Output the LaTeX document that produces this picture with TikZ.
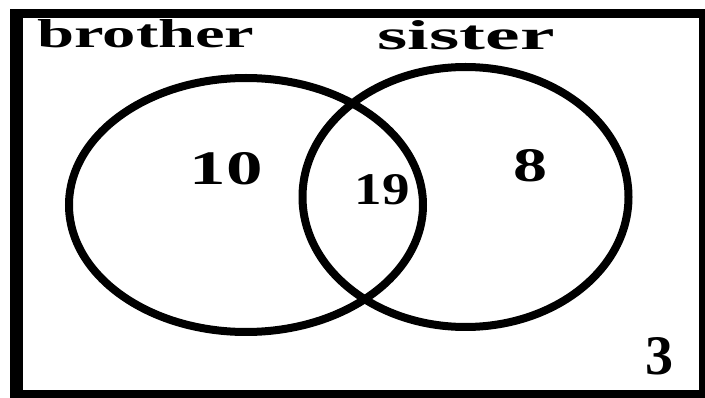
\documentclass[tikz,border=0pt]{standalone}
\usepackage{fontspec}
\setmainfont{Liberation Serif}
\usepackage{graphicx}
\usetikzlibrary{shapes.geometric}
\begin{document}
\begin{tikzpicture}[x=1pt,y=-1pt,
  setcircle/.style={draw=black, ellipse, line width=8pt, inner sep=0pt},
  lbl/.style={inner sep=0pt, text=black, font=\bfseries}]
\useasboundingbox (0,0) rectangle (705,398);
\fill[white] (0,0) rectangle (705,398);
\draw[line width=9pt] (16.5,14) rectangle (703,394.5);
\draw[line width=13pt] (16.5,9.5) -- (16.5,399);
\node[setcircle, minimum width=354pt, minimum height=254pt] (brotherset) at (246,205) {};
\node[setcircle, minimum width=326pt, minimum height=260pt] (sisterset) at (465.5,197) {};
\node[lbl] (brother) at (146,34) {\resizebox{217pt}{28pt}{brother}};
\node[lbl] (sister) at (466,35) {\resizebox{177pt}{29pt}{sister}};
\node[lbl] (n10) at (226,169) {\resizebox{73pt}{32pt}{10}};
\node[lbl] (n19) at (382,190) {\resizebox{55pt}{30pt}{19}};
\node[lbl] (n8) at (530,166) {\resizebox{34pt}{32pt}{8}};
\node[lbl] (n3) at (659,356) {\resizebox{28pt}{37pt}{3}};
\end{tikzpicture}
\end{document}
